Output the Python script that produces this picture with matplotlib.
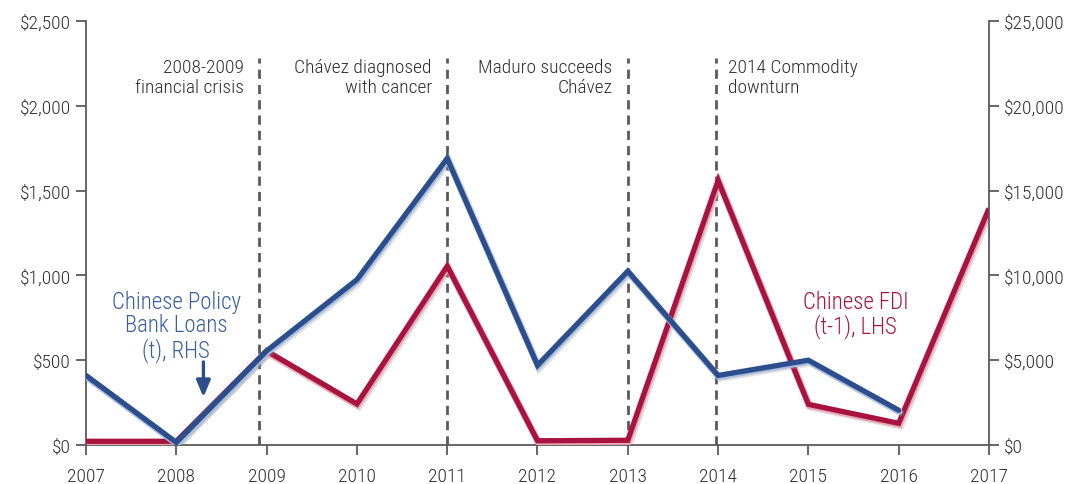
import matplotlib
matplotlib.use("Agg")
import matplotlib.pyplot as plt
import matplotlib.patheffects as pe
from matplotlib import font_manager as fm
from matplotlib.ticker import FuncFormatter

years = [2007, 2008, 2009, 2010, 2011, 2012, 2013, 2014, 2015, 2016, 2017]
fdi_lhs = [22, 22, 555, 242, 1055, 25, 28, 1560, 240, 128, 1395]
loan_years = [2007, 2008, 2009, 2010, 2011, 2012, 2013, 2014, 2015, 2016]
loans_rhs = [4100, 150, 5550, 9750, 16900, 4700, 10250, 4100, 5000, 2050]
event_x = [2008.92, 2011.0, 2013.0, 2013.98]
event_labels = ["2008-2009\nfinancial crisis", "Chávez diagnosed\nwith cancer",
                "Maduro succeeds\nChávez", "2014 Commodity\ndownturn"]
event_align = ["right", "right", "right", "left"]
left_ticks = [0, 500, 1000, 1500, 2000, 2500]
right_ticks = [0, 5000, 10000, 15000, 20000, 25000]

available = {f.name for f in fm.fontManager.ttflist}
candidates = ['Roboto Condensed', 'Archivo Narrow', 'PT Sans Narrow', 'IBM Plex Sans Condensed',
              'Fira Sans Condensed', 'Liberation Sans Narrow', 'Barlow Condensed',
              'Encode Sans Condensed', 'Asap Condensed', 'Open Sans Condensed']
chosen = next((c for c in candidates if c in available), None)
if chosen is None:
    chosen = 'Open Sans'
    plt.rcParams['font.stretch'] = 'condensed'
plt.rcParams['font.family'] = [chosen, 'DejaVu Sans']
plt.rcParams['font.weight'] = 300

RED = "#A8133F"
BLUE = "#2C4E8C"
GRAY = "#5A5A5A"
TXT = "#2E2E2E"

fig = plt.figure(figsize=(10.78, 4.85), dpi=100)
ax = fig.add_axes([0.0798, 0.0804, 0.8376, 0.8742])
ax2 = ax.twinx()

ax.set_xlim(2007, 2017)
ax.set_ylim(0, 2500)
ax2.set_ylim(0, 25000)

for i, x in enumerate(event_x):
    ax.plot([x, x], [0, 2280], color=GRAY, lw=2.0, dashes=(3.3, 2.2), zorder=1)
    dx = -0.17 if event_align[i] == "right" else 0.13
    ax.text(x + dx, 2280, event_labels[i], ha=event_align[i], va="top",
            fontsize=14, color=TXT, linespacing=1.15)

def fx(c_light):
    return [pe.SimpleLineShadow(offset=(1.5, -2), shadow_color="#999999", alpha=0.3, linewidth=5),
            pe.Stroke(linewidth=4.6, foreground=c_light, offset=(0.5, -1.0)),
            pe.Normal()]

ax.plot(years, fdi_lhs, color=RED, lw=3.8, solid_joinstyle="miter",
        solid_capstyle="butt", path_effects=fx("#E7A5B6"), zorder=3)
ax2.plot(loan_years, loans_rhs, color=BLUE, lw=3.8, solid_joinstyle="miter",
         solid_capstyle="round", path_effects=fx("#A9BDE0"), zorder=4)

ax.set_xticks(years)
ax.set_yticks(left_ticks)
ax2.set_yticks(right_ticks)
ax.yaxis.set_major_formatter(FuncFormatter(lambda v, p: f"${v:,.0f}"))
ax2.yaxis.set_major_formatter(FuncFormatter(lambda v, p: f"${v:,.0f}"))

for a in (ax, ax2):
    for s in a.spines.values():
        s.set_color(GRAY)
        s.set_linewidth(1.3)
    a.spines["top"].set_visible(False)
    a.tick_params(colors=GRAY, labelcolor=TXT, labelsize=14, length=7, width=1.3,
                  direction="out")
ax.spines["right"].set_visible(False)
ax2.spines["left"].set_visible(False)
ax2.spines["bottom"].set_visible(False)
ax.tick_params(axis="x", pad=9)
ax.tick_params(axis="y", pad=4)
ax2.tick_params(axis="y", pad=4)

ax.text(2008.0, 915, "Chinese Policy\nBank Loans\n(t), RHS", ha="center", va="top",
        fontsize=16.5, color="#3A5DA0", linespacing=1.03)
ax.annotate("", xy=(2008.3, 282), xytext=(2008.3, 490),
            arrowprops=dict(arrowstyle="-|>,head_length=1.0,head_width=0.42",
                            color=BLUE, lw=2.4, shrinkA=0, shrinkB=0))
ax.text(2015.52, 915, "Chinese FDI\n(t-1), LHS", ha="center", va="top",
        fontsize=16.5, color=RED, linespacing=1.03)

fig.savefig("out.png", dpi=100)
